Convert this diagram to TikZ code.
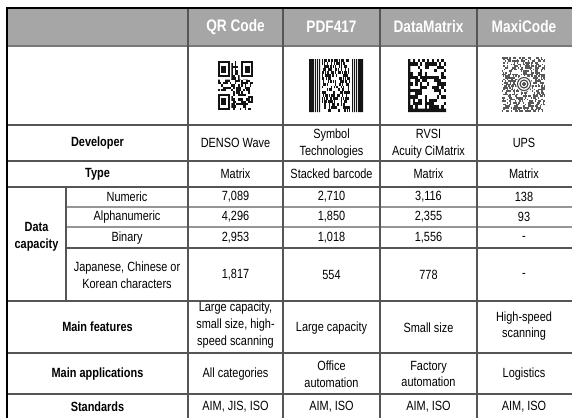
\documentclass[tikz,border=0pt]{standalone}
\usepackage{fontspec}
\setmainfont[FakeStretch=0.82]{Liberation Sans}
\usetikzlibrary{calc}

\begin{document}
\begin{tikzpicture}[x=0.75pt,y=0.75pt,yscale=-1,xscale=1,
  cell/.style={align=center,inner sep=0pt,font=\fontsize{10}{12.5}\selectfont},
  rowlbl/.style={align=center,inner sep=0pt,font=\fontsize{10}{12.5}\selectfont\bfseries},
  hdr/.style={inner sep=0pt,text=white,font=\fontsize{12.5}{15}\selectfont\bfseries},
  tline/.style={draw={rgb, 255:red, 85; green, 85; blue, 85 },line width=0.8pt},
  softline/.style={draw={rgb, 255:red, 150; green, 150; blue, 150 },line width=1.3pt},
  modfill/.style={fill={rgb, 255:red, 20; green, 20; blue, 20 }}]
\useasboundingbox (0,0) rectangle (572,418);
\clip (0,0) rectangle (572,418);

%Shape: Rectangle (header band)
\fill [fill={rgb, 255:red, 166; green, 166; blue, 166 }] (7,8) rectangle (580,46);
%Straight Lines
\draw [draw={rgb, 255:red, 120; green, 120; blue, 120 },line width=1.2pt] (7,46) -- (580,46);

%Straight Lines (rows)
\draw [tline] (7,125) -- (580,125);
\draw [tline] (7,161) -- (580,161);
\draw [tline] (7,187) -- (580,187);
\draw [softline] (66,207) -- (580,207);
\draw [softline] (66,227) -- (580,227);
\draw [tline] (66,248) -- (580,248);
\draw [tline] (7,301) -- (580,301);
\draw [tline] (7,353) -- (580,353);
\draw [tline] (7,394) -- (580,394);
%Straight Lines (columns)
\draw [tline] (188,8) -- (188,430);
\draw [tline] (283,8) -- (283,430);
\draw [tline] (380,8) -- (380,430);
\draw [tline] (477,8) -- (477,430);
\draw [tline] (66,187) -- (66,301);
%Straight Lines (outer frame)
\draw [line width=2pt] (7,430) -- (7,8) -- (580,8);

%Shape: QR Code
\begin{scope}[shift={(218,61)},xscale=35/21,yscale=49/21]
\pgfmathsetseed{17}
\foreach \i in {0,...,20}{
  \foreach \j in {0,...,20}{
    \pgfmathrandominteger{\bit}{0}{1}
    \ifnum\bit=1 \fill [modfill] (\i,\j) rectangle ++(1,1); \fi
  }
}
\fill [white] (0,0) rectangle (8,8) (13,0) rectangle (21,8) (0,13) rectangle (8,21);
\foreach \px/\py in {0/0,14/0,0/14}{
  \fill [modfill] (\px,\py) rectangle ++(7,7);
  \fill [white] (\px+1,\py+1) rectangle ++(5,5);
  \fill [modfill] (\px+2,\py+2) rectangle ++(3,3);
}
\end{scope}

%Shape: PDF417
\begin{scope}[shift={(309,59)}]
\pgfmathsetseed{41}
\fill [modfill] (0,0) rectangle (5,53) (6,0) rectangle (7,53) (8,0) rectangle (9,53) (10,0) rectangle (11,53);
\foreach \i in {13,...,40}{
  \foreach \j in {0,...,17}{
    \pgfmathrandominteger{\bit}{0}{1}
    \ifnum\bit=1 \fill [modfill] (\i,\j*53/18) rectangle ++(1,53/18); \fi
  }
}
\fill [modfill] (43,0) rectangle (44,53) (45,0) rectangle (46,53) (47,0) rectangle (48,53) (49,0) rectangle (54,53);
\end{scope}

%Shape: DataMatrix
\begin{scope}[shift={(408,59)},xscale=38/16,yscale=53/16]
\pgfmathsetseed{5}
\fill [modfill] (0,0) rectangle (1,16) (0,15) rectangle (16,16);
\foreach \i in {0,2,...,14} \fill [modfill] (\i,0) rectangle ++(1,1);
\foreach \j in {1,3,...,13} \fill [modfill] (15,\j) rectangle ++(1,1);
\foreach \i in {1,...,14}{
  \foreach \j in {1,...,14}{
    \pgfmathrandominteger{\bit}{0}{1}
    \ifnum\bit=1 \fill [modfill] (\i,\j) rectangle ++(1,1); \fi
  }
}
\end{scope}

%Shape: MaxiCode
\begin{scope}[shift={(502,57)}]
\pgfmathsetseed{9}
\foreach \i in {0,...,29}{
  \foreach \j in {0,...,32}{
    \pgfmathrandominteger{\bit}{0}{1}
    \pgfmathsetmacro\hx{\i*1.43+0.5*mod(\j,2)}
    \ifnum\bit=1 \fill [fill=black!65] (\hx,\j*1.67) rectangle ++(1.45,1.7); \fi
  }
}
\fill [white] (22,27) circle [radius=8];
\draw [line width=0.8pt,black!75] (22,27) circle [radius=1.5];
\draw [line width=0.8pt,black!75] (22,27) circle [radius=4];
\draw [line width=0.8pt,black!75] (22,27) circle [radius=6.5];
\end{scope}

% Text Node
\draw (235.5,27) node (hqr) [hdr] {QR Code};
% Text Node
\draw (331.5,27) node (hpdf) [hdr] {PDF417};
% Text Node
\draw (428.5,27) node (hdm) [hdr] {DataMatrix};
% Text Node
\draw (524,27) node (hmc) [hdr] {MaxiCode};

% Text Node
\draw (97.5,143) node (ldev) [rowlbl] {Developer};
\draw (235.5,143) node (devqr) [cell] {DENSO Wave};
\draw (331.5,143.5) node (devpdf) [cell] {Symbol\\Technologies};
\draw (428.5,143.5) node (devdm) [cell] {RVSI\\Acuity CiMatrix};
\draw (524,143) node (devmc) [cell] {UPS};

% Text Node
\draw (97.5,174) node (ltype) [rowlbl] {Type};
\draw (235.5,174) node (typqr) [cell] {Matrix};
\draw (331.5,174) node (typpdf) [cell] {Stacked barcode};
\draw (428.5,174) node (typdm) [cell] {Matrix};
\draw (524,174) node (typmc) [cell] {Matrix};

% Text Node
\draw (36.5,237) node (lcap) [rowlbl] {Data\\capacity};
\draw (127,197) node (lnum) [cell] {Numeric};
\draw (127,217) node (lalp) [cell] {Alphanumeric};
\draw (127,238) node (lbin) [cell] {Binary};
\draw (127,275) node (ljp) [cell] {Japanese, Chinese or\\Korean characters};

% Text Node
\draw (235.5,197) node (numqr) [cell] {7,089};
\draw (331.5,197) node (numpdf) [cell] {2,710};
\draw (428.5,197) node (numdm) [cell] {3,116};
\draw (524,197) node (nummc) [cell] {138};
\draw (235.5,217) node (alpqr) [cell] {4,296};
\draw (331.5,217) node (alppdf) [cell] {1,850};
\draw (428.5,217) node (alpdm) [cell] {2,355};
\draw (524,217) node (alpmc) [cell] {93};
\draw (235.5,238) node (binqr) [cell] {2,953};
\draw (331.5,238) node (binpdf) [cell] {1,018};
\draw (428.5,238) node (bindm) [cell] {1,556};
\draw (524,238) node (binmc) [cell] {-};
\draw (235.5,275) node (jpqr) [cell] {1,817};
\draw (331.5,275) node (jppdf) [cell] {554};
\draw (428.5,275) node (jpdm) [cell] {778};
\draw (524,275) node (jpmc) [cell] {-};

% Text Node
\draw (97.5,327) node (lfeat) [rowlbl] {Main features};
\draw (235.5,325) node (featqr) [cell] {Large capacity,\\small size, high-\\speed scanning};
\draw (331.5,328) node (featpdf) [cell] {Large capacity};
\draw (428.5,328) node (featdm) [cell] {Small size};
\draw (524,326) node (featmc) [cell] {High-speed\\scanning};

% Text Node
\draw (97.5,374) node (lapp) [rowlbl] {Main applications};
\draw (235.5,374) node (appqr) [cell] {All categories};
\draw (331.5,374) node (apppdf) [cell] {Office\\automation};
\draw (428.5,374) node (appdm) [cell] {Factory\\automation};
\draw (524,374) node (appmc) [cell] {Logistics};

% Text Node
\draw (97.5,407) node (lstd) [rowlbl] {Standards};
\draw (235.5,407) node (stdqr) [cell] {AIM, JIS, ISO};
\draw (331.5,407) node (stdpdf) [cell] {AIM, ISO};
\draw (428.5,407) node (stddm) [cell] {AIM, ISO};
\draw (524,407) node (stdmc) [cell] {AIM, ISO};

\end{tikzpicture}
\end{document}
